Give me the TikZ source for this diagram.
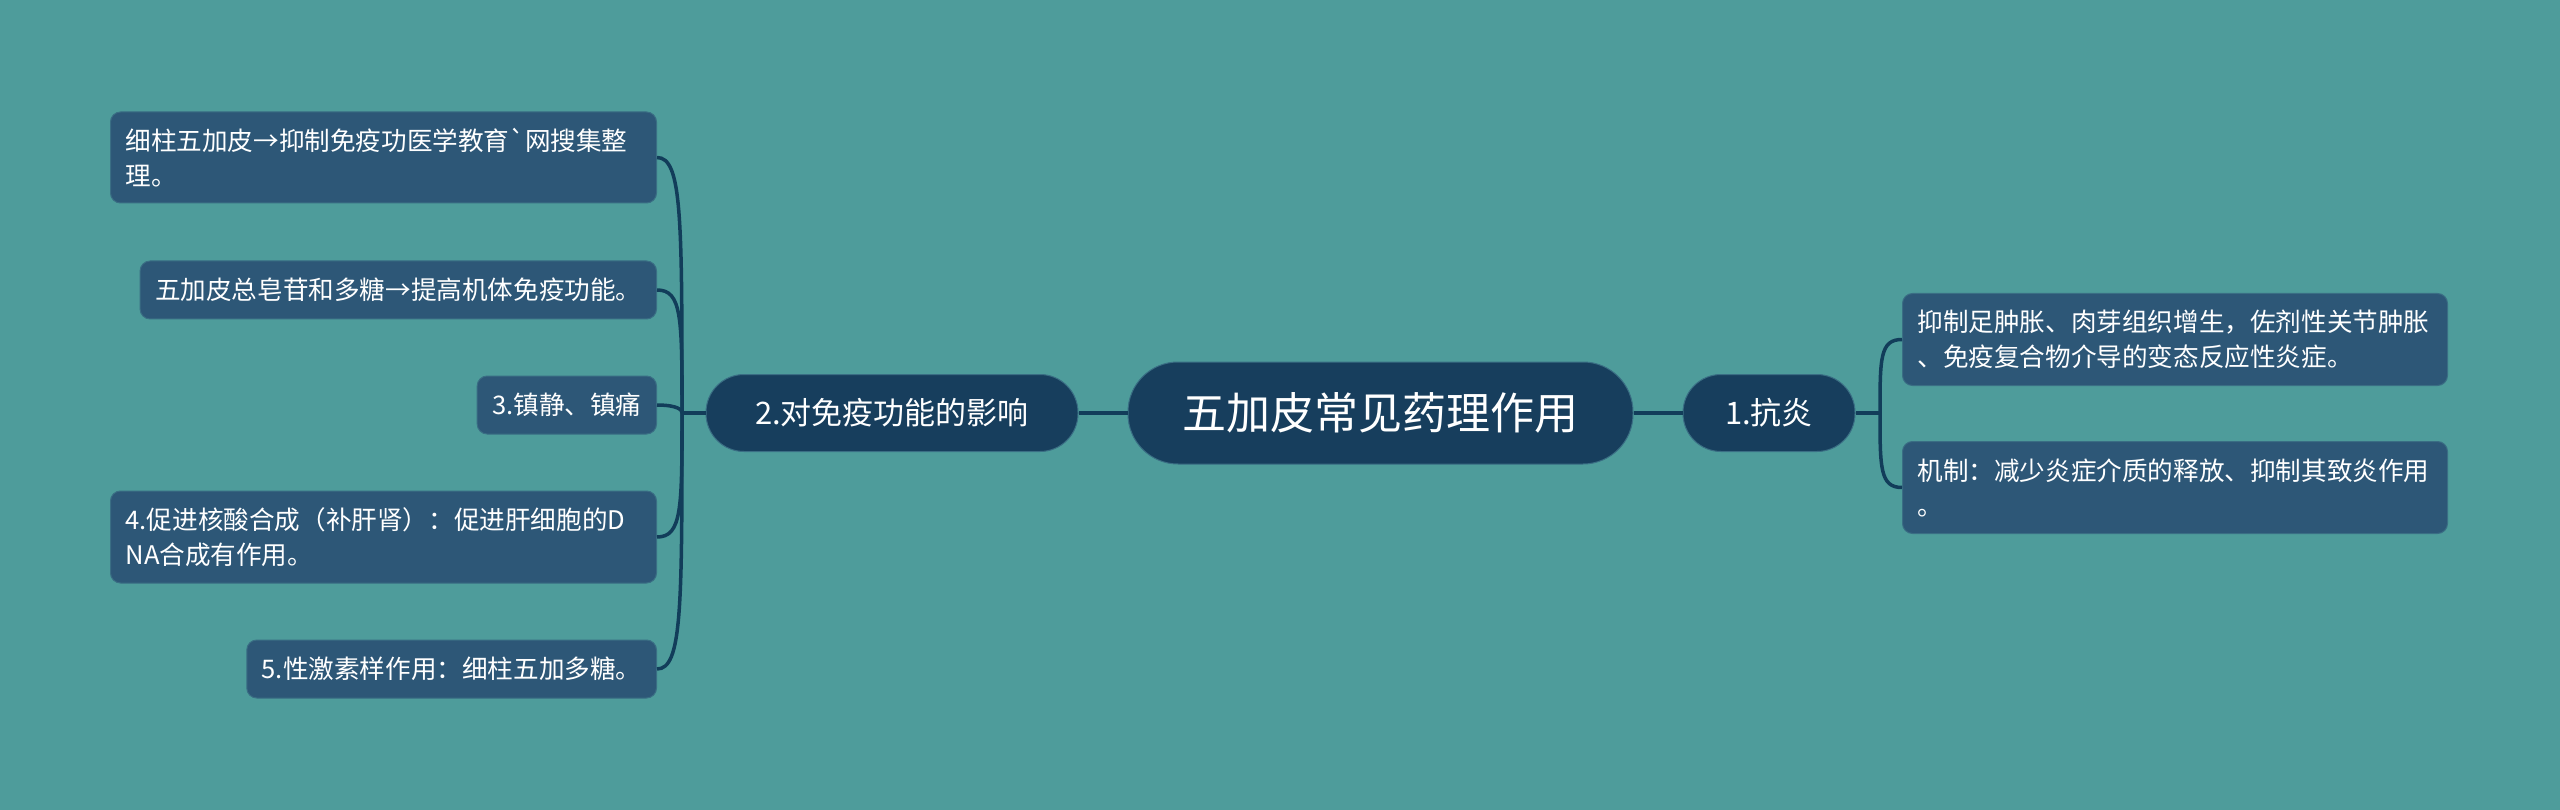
\documentclass[tikz,border=0pt]{standalone}
\usepackage{fontspec}
\setmainfont{Noto Sans CJK SC}
\newfontfamily\plainfont{Noto Sans CJK SC} % no TeX ligatures, keeps the grave accent
\usetikzlibrary{positioning}
\definecolor{bgteal}{HTML}{4E9C9B}
\definecolor{rootblue}{HTML}{173E5D}
\definecolor{leafblue}{HTML}{2D5777}
\definecolor{linkblue}{HTML}{123D5A}
\definecolor{edgeblue}{HTML}{3A6E84}
\tikzset{
    x=1pt, y=-1pt, % one unit is one pixel of the picture, y runs down
    every node/.style={text=white, draw=edgeblue, line width=1pt}, % white text, thin light rim
    rootnode/.style={fill=rootblue, rounded corners=50pt, minimum width=505pt, minimum height=102pt, font=\fontsize{44}{50}\selectfont},
    topic/.style={fill=rootblue, rounded corners=38pt, minimum height=77pt, font=\fontsize{31}{36}\selectfont},
    leaf/.style={fill=leafblue, rounded corners=10pt, inner xsep=15pt, inner ysep=6pt, minimum height=58pt, align=left, font=\fontsize{25.6}{35}\selectfont},
    link/.style={draw=linkblue, line width=3.5pt}, % the connectors
}
\begin{document}
\begin{tikzpicture}
\fill[bgteal] (0,0) rectangle (2560,810);
\useasboundingbox (0,0) rectangle (2560,810);
% middle row
\node[rootnode] (root) at (1380.5,413) {五加皮常见药理作用};
\node[topic, minimum width=372pt, left=49pt of root] (t2) {2.对免疫功能的影响};
\node[topic, minimum width=172pt, right=49pt of root] (t1) {1.抗炎};
\coordinate (lj) at (682,413);
\coordinate (rj) at (1880,413);
% left leaves
\node[leaf, anchor=east, text width=516pt, minimum height=91pt] (l1) at (657,157.5) {细柱五加皮→抑制免疫功医学教育{\plainfont\symbol{96}}网搜集整\\理。};
\node[leaf, anchor=east] (l2) at (657,290) {五加皮总皂苷和多糖→提高机体免疫功能。};
\node[leaf, anchor=east] (l3) at (657,405) {3.镇静、镇痛};
\node[leaf, anchor=east, text width=516pt, minimum height=92pt] (l4) at (657,537) {4.促进核酸合成（补肝肾）：促进肝细胞的D\\NA合成有作用。};
\node[leaf, anchor=east] (l5) at (657,669) {5.性激素样作用：细柱五加多糖。};
% right leaves
\node[leaf, anchor=west, text width=515pt, minimum height=92pt] (r1) at (1902,339.5) {抑制足肿胀、肉芽组织增生，佐剂性关节肿胀\\、免疫复合物介导的变态反应性炎症。};
\node[leaf, anchor=west, text width=515pt, minimum height=92pt] (r2) at (1902,487.5) {机制：减少炎症介质的释放、抑制其致炎作用\\。};
% connectors
\draw[link] (t2) -- (root);
\draw[link] (root) -- (t1);
\draw[link] (t2) -- (lj);
\draw[link] (t1) -- (rj);
\draw[link] (lj) .. controls +(0,-195) and +(25,0) .. (l1.east);
\draw[link] (lj) .. controls +(0,-95) and +(25,0) .. (l2.east);
\draw[link] (lj) .. controls +(0,-6) and +(12,0) .. (l3.east);
\draw[link] (lj) .. controls +(0,95) and +(25,0) .. (l4.east);
\draw[link] (lj) .. controls +(0,195) and +(25,0) .. (l5.east);
\draw[link] (rj) .. controls +(0,-55) and +(-22,0) .. (r1.west);
\draw[link] (rj) .. controls +(0,55) and +(-22,0) .. (r2.west);
\end{tikzpicture}
\end{document}
